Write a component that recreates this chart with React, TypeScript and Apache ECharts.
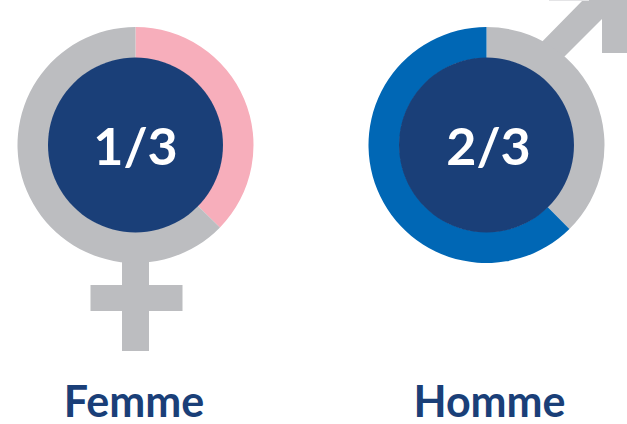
import React, { useEffect, useRef } from "react";
import * as echarts from "echarts";

const femaleNames = ["Femmes", "Reste"];
const femaleValues = [37.3, 62.7];
const maleNames = ["Reste", "Hommes"];
const maleValues = [37.6, 62.4];
const centerLabels = ["1/3", "2/3"];
const captions = ["Femme", "Homme"];

const PINK = "#F7AEBB";
const GRAY = "#BCBDC0";
const NAVY = "#1A3F78";
const BLUE = "#0067B5";

function ring(cx: number, names: string[], values: number[], colors: string[]) {
  return {
    type: "pie",
    silent: true,
    center: [cx, 145],
    radius: [87, 118],
    startAngle: 90,
    clockwise: true,
    label: { show: false },
    labelLine: { show: false },
    z: 5,
    data: names.map((name, i) => ({ name, value: values[i], itemStyle: { color: colors[i] } })),
  };
}

function hub(cx: number, text: string, dx: number) {
  return {
    type: "pie",
    silent: true,
    center: [cx, 145],
    radius: [0, 87.5],
    z: 6,
    label: {
      show: true,
      position: "center",
      formatter: text,
      color: "#FFFFFF",
      fontFamily: "Lato",
      fontWeight: 700,
      fontSize: 52,
      offset: [dx, 0],
    },
    labelLine: { show: false },
    data: [{ name: text, value: 1, itemStyle: { color: NAVY } }],
  };
}

export default function App() {
  const ref = useRef<HTMLDivElement>(null);
  useEffect(() => {
    document.body.style.margin = "0";
    const chart = echarts.init(ref.current!, null, { renderer: "svg" });
    chart.setOption({
      animation: false,
      backgroundColor: "#FFFFFF",
      title: captions.map((text, i) => ({
        text,
        left: i === 0 ? 134 : 489.5,
        top: 376,
        padding: 0,
        textAlign: "center",
        textStyle: { color: NAVY, fontFamily: "Lato", fontWeight: 700, fontSize: 43, lineHeight: 48 },
      })),
      graphic: [
        { type: "rect", z: 1, shape: { x: 122, y: 255, width: 27, height: 96 }, style: { fill: GRAY } },
        { type: "rect", z: 1, shape: { x: 90.5, y: 285, width: 92, height: 26 }, style: { fill: GRAY } },
        {
          type: "polygon",
          z: 1,
          shape: {
            points: [
              [530, 54],
              [583, 0],
              [627, 0],
              [627, 53],
              [602, 53],
              [602, 19],
              [552, 69],
            ],
          },
          style: { fill: GRAY },
        },
        { type: "rect", z: 1, shape: { x: 549, y: 0, width: 40, height: 1 }, style: { fill: "#E4E4E6" } },
      ],
      series: [
        ring(135.5, femaleNames, femaleValues, [PINK, GRAY]),
        ring(486.5, maleNames, maleValues, [GRAY, BLUE]),
        hub(135.5, centerLabels[0], 0),
        hub(486.5, centerLabels[1], 2),
      ],
    });
    return () => chart.dispose();
  }, []);
  return <div ref={ref} style={{ position: "fixed", left: 0, top: 0, width: 627, height: 424 }} />;
}
